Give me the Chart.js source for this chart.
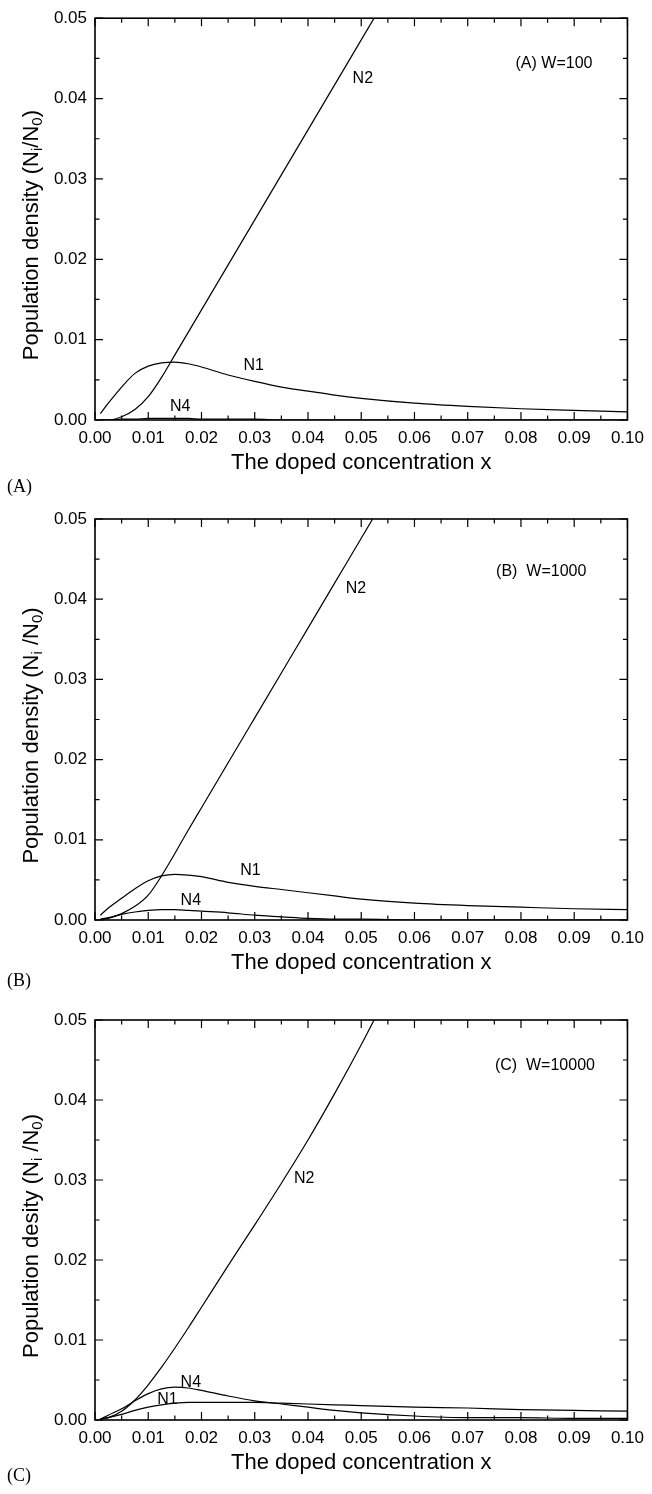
<!DOCTYPE html>
<html>
<head>
<meta charset="utf-8">
<script src="https://cdn.jsdelivr.net/npm/chart.js@4"></script>
<style>
  html, body { margin: 0; background: #fff; overflow: hidden; }
  .panel { position: absolute; left: 0; width: 652px; height: 500px; }
  .panel canvas { display: block; }
  .tag { position: absolute; left: 7px; font: 18px "Liberation Serif", "Times New Roman", serif; color: #000; line-height: 20px; }
</style>
</head>
<body>
<div class="panel" style="top:0"><canvas id="chartA"></canvas><div class="tag" style="top:476px">(A)</div></div>
<div class="panel" style="top:500px"><canvas id="chartB"></canvas><div class="tag" style="top:470px">(B)</div></div>
<div class="panel" style="top:1000px"><canvas id="chartC"></canvas><div class="tag" style="top:465px">(C)</div></div>
<script>
// x grids shared by the curves
const xs   = [0.001, 0.0025, 0.005, 0.0075, 0.01, 0.0125, 0.015, 0.0175, 0.02, 0.025, 0.03, 0.035, 0.04, 0.045, 0.05, 0.06, 0.07, 0.08, 0.09, 0.1];
const xsN2 = [0.001, 0.0025, 0.005, 0.0075, 0.01, 0.0125, 0.015, 0.0175, 0.02, 0.025, 0.03, 0.035, 0.04, 0.045, 0.05, 0.055];

const xTicks = [0, 0.01, 0.02, 0.03, 0.04, 0.05, 0.06, 0.07, 0.08, 0.09, 0.1];
const yTicks = [0, 0.01, 0.02, 0.03, 0.04, 0.05];

// (A) W=100
const n1A = [0.0008, 0.0021, 0.0041, 0.0058, 0.0067, 0.0071, 0.0072, 0.0070, 0.0066, 0.0056, 0.0048, 0.0041, 0.0036, 0.0031, 0.0027, 0.0021, 0.0017, 0.0014, 0.0012, 0.0010];
const n4A = [0.0000, 0.0000, 0.0001, 0.0001, 0.0002, 0.0002, 0.0002, 0.0002, 0.0001, 0.0001, 0.0001, 0.0000, 0.0000, 0.0000, 0.0000, 0.0000, 0.0000, 0.0000, 0.0000, 0.0000];
const n2A = [0.0000, 0.0000, 0.0004, 0.0013, 0.0029, 0.0053, 0.0081, 0.0109, 0.0137, 0.0193, 0.0249, 0.0305, 0.0361, 0.0417, 0.0473, 0.0529];

// (B) W=1000
const n1B = [0.0006, 0.0015, 0.0027, 0.0039, 0.0049, 0.0055, 0.0057, 0.0056, 0.0054, 0.0047, 0.0042, 0.0038, 0.0034, 0.0030, 0.0026, 0.0021, 0.0018, 0.0016, 0.0014, 0.0013];
const n4B = [0.0001, 0.0003, 0.0007, 0.0010, 0.0012, 0.0013, 0.0013, 0.0012, 0.0011, 0.0009, 0.0006, 0.0004, 0.0002, 0.0001, 0.0001, 0.0000, 0.0000, 0.0000, 0.0000, 0.0000];
const n2B = [0.0000, 0.0002, 0.0008, 0.0017, 0.0031, 0.0055, 0.0083, 0.0112, 0.0140, 0.0196, 0.0252, 0.0308, 0.0364, 0.0420, 0.0476, 0.0532];

// (C) W=10000
const n1C = [0.0001, 0.0003, 0.0007, 0.0012, 0.0016, 0.0019, 0.0021, 0.0022, 0.0022, 0.0022, 0.0022, 0.0021, 0.0020, 0.0019, 0.0018, 0.0016, 0.0015, 0.0013, 0.0012, 0.0011];
const n4C = [0.0001, 0.0006, 0.0014, 0.0024, 0.0033, 0.0039, 0.0041, 0.0040, 0.0037, 0.0030, 0.0024, 0.0020, 0.0016, 0.0012, 0.0009, 0.0005, 0.0003, 0.0003, 0.0002, 0.0002];
const n2C = [0.0001, 0.0003, 0.0011, 0.0025, 0.0044, 0.0066, 0.0090, 0.0115, 0.0141, 0.0193, 0.0244, 0.0296, 0.0350, 0.0408, 0.0469, 0.0534];

const FONT = '"Liberation Sans", Arial, Helvetica, sans-serif';
Chart.defaults.font.family = FONT;
Chart.defaults.color = '#000';

function pts(xv, yv) {
  return xv.map((x, i) => ({ x: x, y: yv[i] }));
}

// frame, inward ticks on all four sides, curve labels and the y title
const decor = {
  id: 'decor',
  afterDatasetsDraw(chart, args, o) {
    const { ctx, chartArea: a, scales: { x, y } } = chart;
    ctx.save();
    ctx.strokeStyle = '#000';
    ctx.lineWidth = 1.2;
    ctx.beginPath();
    xTicks.forEach((v, i) => {
      const px = x.getPixelForValue(v);
      ctx.moveTo(px, a.bottom); ctx.lineTo(px, a.bottom - 8);
      ctx.moveTo(px, a.top); ctx.lineTo(px, a.top + 8);
      if (i < xTicks.length - 1) {
        const pm = x.getPixelForValue((v + xTicks[i + 1]) / 2);
        ctx.moveTo(pm, a.bottom); ctx.lineTo(pm, a.bottom - 4.5);
        ctx.moveTo(pm, a.top); ctx.lineTo(pm, a.top + 4.5);
      }
    });
    yTicks.forEach((v, i) => {
      const py = y.getPixelForValue(v);
      ctx.moveTo(a.left, py); ctx.lineTo(a.left + 8, py);
      ctx.moveTo(a.right, py); ctx.lineTo(a.right - 8, py);
      if (i < yTicks.length - 1) {
        const pm = y.getPixelForValue((v + yTicks[i + 1]) / 2);
        ctx.moveTo(a.left, pm); ctx.lineTo(a.left + 4.5, pm);
        ctx.moveTo(a.right, pm); ctx.lineTo(a.right - 4.5, pm);
      }
    });
    ctx.stroke();
    ctx.lineWidth = 1.6;
    ctx.strokeRect(a.left, a.top, a.right - a.left, a.bottom - a.top);

    ctx.fillStyle = '#000';
    ctx.font = '16px ' + FONT;
    ctx.textAlign = 'center';
    ctx.textBaseline = 'middle';
    o.notes.forEach(n => {
      ctx.fillText(n.text, x.getPixelForValue(n.x), y.getPixelForValue(n.y));
    });

    // rotated y title with subscripts
    const big = '22px ' + FONT, small = '15px ' + FONT;
    let w = 0;
    o.yTitle.forEach(p => { ctx.font = p.sub ? small : big; p.w = ctx.measureText(p.t).width; w += p.w; });
    ctx.translate(32, (a.top + a.bottom) / 2 + 16);
    ctx.rotate(-Math.PI / 2);
    ctx.textAlign = 'left';
    ctx.textBaseline = 'middle';
    let pos = -w / 2;
    o.yTitle.forEach(p => {
      ctx.font = p.sub ? small : big;
      ctx.fillText(p.t, pos, p.sub ? 6 : 0);
      pos += p.w;
    });
    ctx.restore();
  }
};

function makePanel(id, top, series, notes, yTitle) {
  const line = { borderColor: '#000', borderWidth: 1.2, pointRadius: 0, fill: false, cubicInterpolationMode: 'monotone' };
  return new Chart(document.getElementById(id), {
    type: 'line',
    data: {
      datasets: [
        Object.assign({ label: 'N1', data: pts(xs, series[0]) }, line),
        Object.assign({ label: 'N2', data: pts(xsN2, series[1]) }, line),
        Object.assign({ label: 'N4', data: pts(xs, series[2]) }, line)
      ]
    },
    options: {
      responsive: true,
      maintainAspectRatio: false,
      animation: false,
      events: [],
      layout: { padding: { top: top, right: 20, left: 0, bottom: 0 } },
      plugins: {
        legend: { display: false },
        tooltip: { enabled: false },
        decor: { notes: notes, yTitle: yTitle }
      },
      scales: {
        x: {
          type: 'linear', min: 0, max: 0.1,
          grid: { display: false, drawTicks: false },
          border: { display: false },
          afterBuildTicks: s => { s.ticks = xTicks.map(v => ({ value: v })); },
          afterFit: s => { s.height = 80; },
          ticks: { padding: 8, maxRotation: 0, autoSkip: false, font: { size: 17 }, callback: v => v.toFixed(2) },
          title: { display: true, text: 'The doped concentration x', font: { size: 22 }, padding: { top: 0, bottom: 24 } }
        },
        y: {
          type: 'linear', min: 0, max: 0.05,
          grid: { display: false, drawTicks: false },
          border: { display: false },
          afterBuildTicks: s => { s.ticks = yTicks.map(v => ({ value: v })); },
          afterFit: s => { s.width = 95; },
          ticks: { padding: 8, autoSkip: false, font: { size: 17 }, callback: v => v.toFixed(2) }
        }
      }
    },
    plugins: [decor]
  });
}

makePanel('chartA', 18, [n1A, n2A, n4A],
  [{ text: 'N2', x: 0.0503, y: 0.0425 }, { text: 'N1', x: 0.0298, y: 0.0068 }, { text: 'N4', x: 0.016, y: 0.0017 }, { text: '(A) W=100', x: 0.0862, y: 0.0444 }],
  [{ t: 'Population density (N' }, { t: 'i', sub: true }, { t: '/N' }, { t: '0', sub: true }, { t: ')' }]);

makePanel('chartB', 19, [n1B, n2B, n4B],
  [{ text: 'N2', x: 0.049, y: 0.0413 }, { text: 'N1', x: 0.0292, y: 0.0061 }, { text: 'N4', x: 0.018, y: 0.0024 }, { text: '(B)  W=1000', x: 0.0838, y: 0.0434 }],
  [{ t: 'Population density (N' }, { t: 'i', sub: true }, { t: ' /N' }, { t: '0', sub: true }, { t: ')' }]);

makePanel('chartC', 20, [n1C, n2C, n4C],
  [{ text: 'N2', x: 0.0393, y: 0.0302 }, { text: 'N4', x: 0.018, y: 0.0047 }, { text: 'N1', x: 0.0136, y: 0.0025 }, { text: '(C)  W=10000', x: 0.0845, y: 0.0443 }],
  [{ t: 'Population desity (N' }, { t: 'i', sub: true }, { t: ' /N' }, { t: '0', sub: true }, { t: ')' }]);
</script>
</body>
</html>
